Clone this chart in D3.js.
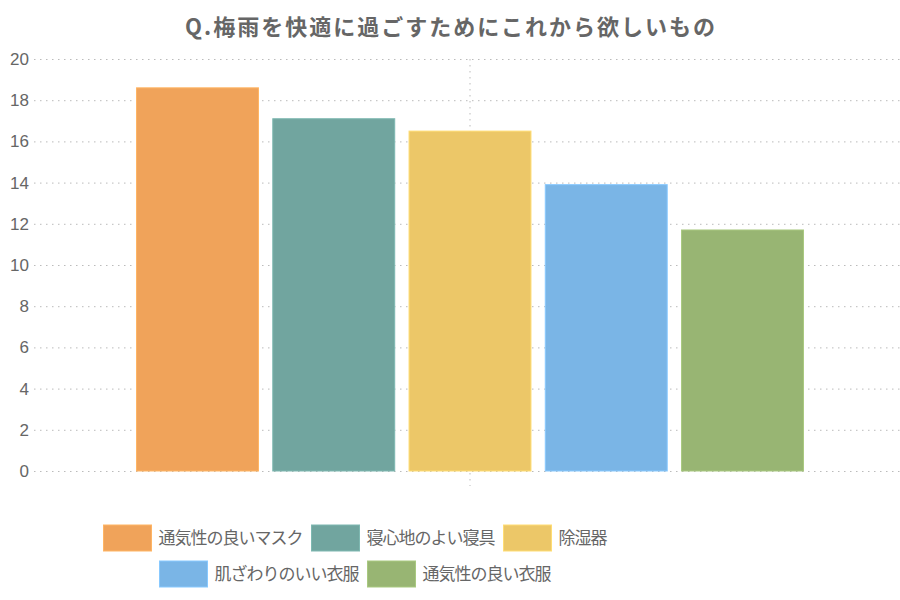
<!DOCTYPE html>
<html>
<head>
<meta charset="utf-8">
<script src="https://cdn.jsdelivr.net/npm/d3@7"></script>
<style>
  html, body { margin: 0; padding: 0; background: #fff; }
  svg { display: block; font-family: "Noto Sans CJK JP", "Noto Sans", sans-serif; }
</style>
</head>
<body>
<svg id="chart" width="900" height="600"></svg>
<script>
(function () {
    'use strict';

    const title = "Q.梅雨を快適に過ごすためにこれから欲しいもの";
    const categories = [""];
    const series = ["通気性の良いマスク", "寝心地のよい寝具", "除湿器", "肌ざわりのいい衣服", "通気性の良い衣服"];
    const values = [18.6, 17.1, 16.5, 13.9, 11.7];
    const colors = ["#f0a35a", "#71a59f", "#ecc768", "#7ab5e6", "#98b573"];
    const yTicks = [0, 2, 4, 6, 8, 10, 12, 14, 16, 18, 20];

    const width = 900;
    const margin = {top: 59, left: 34, bottom: 471};
    const plotRight = 906;

    const svg = d3.select("#chart");

    svg.append("text")
        .attr("x", 451)
        .attr("y", 35)
        .attr("text-anchor", "middle")
        .attr("fill", "#666")
        .style("font-size", "22px")
        .style("letter-spacing", "2px")
        .style("font-weight", "bold")
        .text(title);

    const y = d3.scaleLinear()
        .domain([0, 20])
        .range([margin.bottom, margin.top]);

    const x0 = d3.scaleBand()
        .domain(categories)
        .range([margin.left, plotRight])
        .paddingInner(0)
        .paddingOuter(0.14);

    const x1 = d3.scaleBand()
        .domain(series)
        .range([0, x0.bandwidth()])
        .paddingInner(0.105)
        .paddingOuter(0.0525);

    const color = d3.scaleOrdinal(series, colors);

    // horizontal grid
    const yAxis = svg.append("g")
        .attr("transform", `translate(${margin.left},0)`)
        .call(d3.axisLeft(y).tickValues(yTicks).tickSize(-(width - margin.left)).tickPadding(5));
    yAxis.select(".domain").remove();
    yAxis.selectAll(".tick line")
        .attr("stroke", "#bbb")
        .attr("stroke-dasharray", "1.5,4.5");
    yAxis.selectAll(".tick text")
        .attr("fill", "#666")
        .style("font-family", "'Liberation Sans', Arial, sans-serif")
        .style("font-size", "17px");

    // vertical category grid line
    svg.append("g").selectAll("line")
        .data(categories)
        .join("line")
        .attr("x1", d => x0(d) + x0.bandwidth() / 2)
        .attr("x2", d => x0(d) + x0.bandwidth() / 2)
        .attr("y1", margin.top)
        .attr("y2", margin.bottom + 15)
        .attr("stroke", "#bbb")
        .attr("stroke-dasharray", "1.5,4.5");

    const group = svg.append("g")
        .selectAll("g")
        .data(categories)
        .join("g")
        .attr("transform", d => `translate(${x0(d)},0)`);

    group.selectAll("rect")
        .data(() => series.map((s, i) => ({name: s, value: values[i]})))
        .join("rect")
        .attr("x", d => x1(d.name))
        .attr("y", d => y(d.value))
        .attr("width", x1.bandwidth())
        .attr("height", d => y(0) - y(d.value))
        .attr("fill", d => color(d.name))
        .attr("stroke", d => d3.color(color(d.name)).brighter(0.3))
        .attr("stroke-width", 1);

    // legend
    const legend = svg.append("g")
        .style("font-size", "17px")
        .style("letter-spacing", "-1px");
    const boxW = 48, boxH = 26, textGap = 7, itemGap = 9, maxRow = 540;
    const legendCenter = 355;

    const items = series.map(s => {
        const t = legend.append("text").attr("fill", "#666").text(s);
        const w = t.node().getComputedTextLength();
        return {name: s, text: t, w: boxW + textGap + w};
    });

    const rows = [];
    let row = [], rowW = 0;
    items.forEach(it => {
        const add = (row.length ? itemGap : 0) + it.w;
        if (row.length && rowW + add > maxRow) {
            rows.push({items: row, w: rowW});
            row = []; rowW = 0;
        }
        rowW += (row.length ? itemGap : 0) + it.w;
        row.push(it);
    });
    if (row.length) rows.push({items: row, w: rowW});

    rows.forEach((r, ri) => {
        const cy = 538 + ri * 36;
        let cx = legendCenter - r.w / 2;
        r.items.forEach(it => {
            legend.append("rect")
                .attr("x", cx)
                .attr("y", cy - boxH / 2)
                .attr("width", boxW)
                .attr("height", boxH)
                .attr("fill", color(it.name))
                .attr("stroke", d3.color(color(it.name)).brighter(0.3));
            it.text
                .attr("x", cx + boxW + textGap)
                .attr("y", cy)
                .attr("dy", "0.35em");
            cx += it.w + itemGap;
        });
    });
}());
</script>
</body>
</html>
